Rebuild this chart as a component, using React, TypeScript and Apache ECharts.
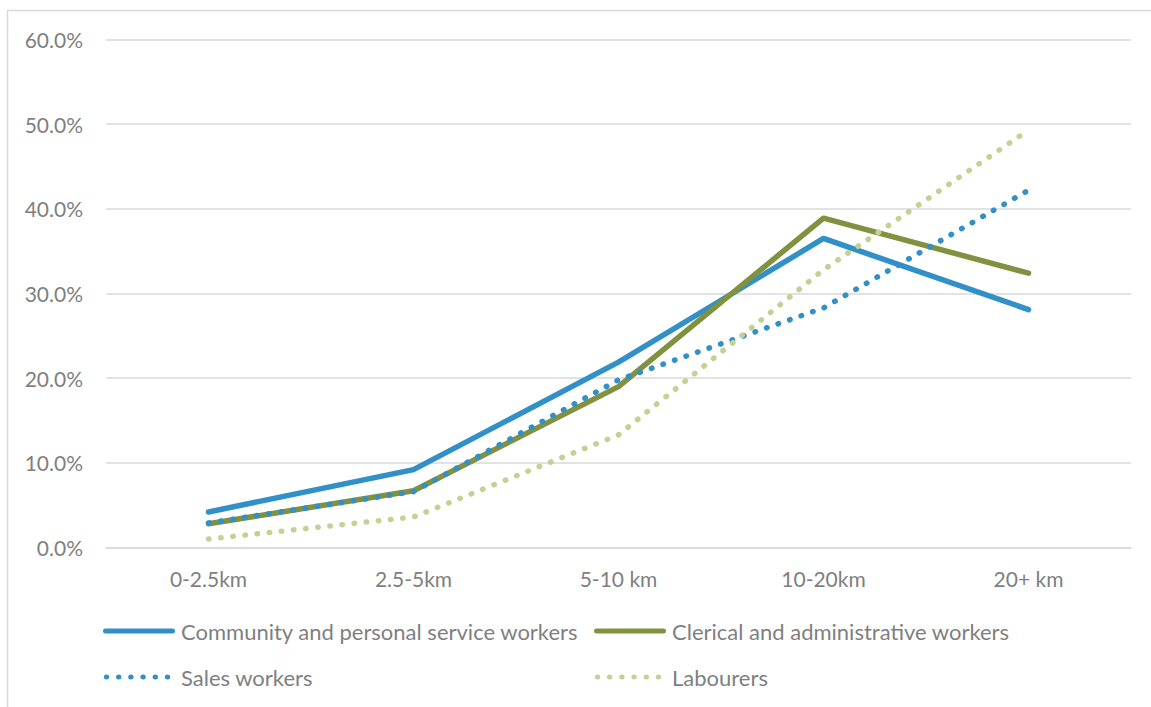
import React, { useEffect, useRef } from "react";
import * as echarts from "echarts";

// Commute distance bands
const categories = ["0-2.5km", "2.5-5km", "5-10 km", "10-20km", "20+ km"];

// Share of workers in each distance band (%)
const communityWorkers = [4.2, 9.2, 21.9, 36.5, 28.1];
const clericalWorkers = [2.8, 6.7, 19.0, 38.9, 32.4];
const salesWorkers = [2.9, 6.6, 19.8, 28.3, 42.2];
const labourers = [1.0, 3.6, 13.3, 32.8, 49.3];

const seriesNames = [
  "Community and personal service workers",
  "Clerical and administrative workers",
  "Sales workers",
  "Labourers",
];

const BLUE = "#3090c7";
const OLIVE = "#80923f";
const PALE = "#c4d094";
const TEXT = "#7f7f7f";
const FONT = "Lato, 'Open Sans', sans-serif";

// Legend keys: a rounded bar for solid series, a row of dots for dotted ones.
// A zero-area segment at x=72 keeps both keys the same width.
const SOLID_KEY =
  "path://M2.5,0 L69.5,0 A2.5,2.5 0 0 1 69.5,5 L2.5,5 A2.5,2.5 0 0 1 2.5,0 Z M72,2.5 L72,2.5 Z";
const DOT_KEY =
  "path://" +
  [3.5, 15.7, 27.9, 40.1, 52.3, 64.5]
    .map((cx) => `M${cx - 2.7},2.5 A2.7,2.7 0 1 0 ${cx + 2.7},2.5 A2.7,2.7 0 1 0 ${cx - 2.7},2.5 Z`)
    .join(" ") +
  " M0,0 L0,0 Z M72,5 L72,5 Z";

export default function App() {
  const ref = useRef<HTMLDivElement>(null);

  useEffect(() => {
    if (!ref.current) return;
    const chart = echarts.init(ref.current, undefined, { renderer: "svg" });

    const solid = (color: string) => ({
      color,
      width: 5.5,
      type: "solid" as const,
      cap: "round" as const,
      join: "round" as const,
    });
    const dotted = (color: string) => ({
      color,
      width: 5.5,
      type: [0.5, 11.7],
      cap: "round" as const,
    });

    const legendBase = {
      orient: "vertical" as const,
      top: 620,
      padding: 0,
      itemWidth: 72,
      itemHeight: 5,
      itemGap: 24,
      symbolKeepAspect: false,
      itemStyle: { borderWidth: 0 },
      textStyle: { color: TEXT, fontSize: 22, fontFamily: FONT, padding: [0, 0, 0, 1] },
    };

    chart.setOption({
      animation: false,
      backgroundColor: "#ffffff",
      textStyle: { fontFamily: FONT },
      grid: { left: 106, right: 20, top: 39.5, bottom: 159.5 },
      graphic: [
        {
          type: "rect",
          shape: { x: 7.5, y: 10.5, width: 1170, height: 720 },
          style: { fill: "none", stroke: "#d9d9d9", lineWidth: 1.5 },
          silent: true,
        },
      ],
      legend: [
        {
          ...legendBase,
          left: 103,
          data: [
            { name: seriesNames[0], icon: SOLID_KEY },
            { name: seriesNames[2], icon: DOT_KEY },
          ],
        },
        {
          ...legendBase,
          left: 594,
          data: [
            { name: seriesNames[1], icon: SOLID_KEY },
            { name: seriesNames[3], icon: DOT_KEY },
          ],
        },
      ],
      xAxis: {
        type: "category",
        data: categories,
        boundaryGap: true,
        axisLine: { lineStyle: { color: "#d9d9d9", width: 1.5 } },
        axisTick: { show: false },
        axisLabel: { color: TEXT, fontSize: 21, fontFamily: FONT, margin: 20 },
      },
      yAxis: {
        type: "value",
        min: 0,
        max: 60,
        interval: 10,
        axisLine: { show: false },
        axisTick: { show: false },
        splitLine: { lineStyle: { color: "#d9d9d9", width: 1.5 } },
        axisLabel: {
          color: TEXT,
          fontSize: 21,
          fontFamily: FONT,
          margin: 23,
          formatter: (v: number) => v.toFixed(1) + "%",
        },
      },
      series: [
        {
          name: seriesNames[0],
          type: "line",
          data: communityWorkers,
          symbol: "none",
          color: BLUE,
          lineStyle: solid(BLUE),
        },
        {
          name: seriesNames[1],
          type: "line",
          data: clericalWorkers,
          symbol: "none",
          color: OLIVE,
          lineStyle: solid(OLIVE),
        },
        {
          name: seriesNames[2],
          type: "line",
          data: salesWorkers,
          symbol: "none",
          color: BLUE,
          lineStyle: dotted(BLUE),
        },
        {
          name: seriesNames[3],
          type: "line",
          data: labourers,
          symbol: "none",
          color: PALE,
          lineStyle: dotted(PALE),
        },
      ],
    });

    return () => chart.dispose();
  }, []);

  return (
    <div
      ref={ref}
      style={{ position: "absolute", left: 0, top: 0, width: 1151, height: 707 }}
    />
  );
}
